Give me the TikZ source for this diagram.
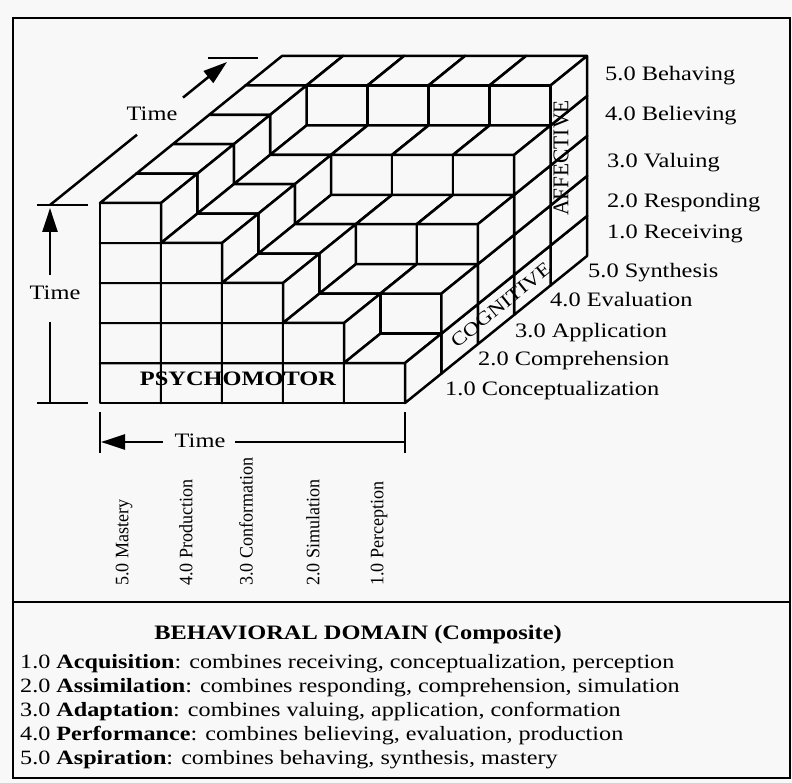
\documentclass[tikz,border=0pt]{standalone}
\usepackage{fontspec}
\setmainfont{Liberation Serif}[FakeStretch=1.19]
\newfontfamily\narrowserif{Liberation Serif}[FakeStretch=0.95]
\usetikzlibrary{arrows.meta}
\definecolor{paper}{RGB}{248,248,248}
\begin{document}
\begin{tikzpicture}[x=1pt,y=-1pt,
  face/.style={fill=paper, draw=black, line width=2.5pt, line join=round},
  lab/.style={inner sep=0pt, font=\fontsize{20.5}{24}\selectfont, text height=1.45ex, text depth=.3ex},
  vlab/.style={inner sep=0pt, rotate=90, anchor=west, font=\narrowserif\fontsize{19}{22}\selectfont},
  dimline/.style={line width=2.5pt},
  dimarrow/.style={line width=2.5pt, -{Triangle[length=24pt,width=15pt]}},
  body/.style={inner sep=0pt, anchor=west, font=\fontsize{20.3}{24}\selectfont}]
\fill[paper] (0,0) rectangle (792,783);
\useasboundingbox (0,0) rectangle (792,783);

% outer frame and divider
\draw[line width=2.5pt] (13,18) rectangle (790,778);
\draw[line width=2.5pt] (13,602) -- (790,602);

% staircase block of unit cubes, painted back to front
\begin{scope}[shift={(100pt,-403pt)}, x={(61pt,0pt)}, y={(0pt,40pt)}, z={(36.4pt,29.4pt)}]
\foreach \k in {4,3,2,1,0}{
  \foreach \i in {0,...,4}{
    \pgfmathtruncatemacro{\hmax}{4-min(\i,4-\k)}
    \foreach \j in {0,...,\hmax}{
      \draw[face] (\i,\j,\k) -- ++(1,0,0) -- ++(0,1,0) -- ++(-1,0,0) -- cycle;
      \draw[face] (\i,\j+1,\k) -- ++(1,0,0) -- ++(0,0,1) -- ++(-1,0,0) -- cycle;
      \draw[face] (\i+1,\j,\k) -- ++(0,0,1) -- ++(0,1,0) -- ++(0,0,-1) -- cycle;
    }
  }
}
\end{scope}

% face names
\node[lab, font=\bfseries\fontsize{20.5}{24}\selectfont] (psy) at (238,383) {PSYCHOMOTOR};
\node[inner sep=0pt, rotate=39, font=\fontsize{19}{22}\selectfont] (cog) at (501,305) {COGNITIVE};
\node[inner sep=0pt, rotate=90, font=\narrowserif\fontsize{22.5}{24}\selectfont] (aff) at (561,158) {AFFECTIVE};

% vertical time scale
\coordinate (vtop) at (50,205);
\coordinate (vbot) at (50,403);
\coordinate (vtip) at (50,208);
\node[lab] (tv) at (55,297) {Time};
\draw[dimline] (37,205) -- (88,205);
\draw[dimline] (37,403) -- (88,403);
\coordinate (va) at (50,275);
\coordinate (vb) at (50,322);
\draw[dimarrow] (va) -- (vtip);
\draw[dimline] (vb) -- (vbot);

% oblique time scale
\coordinate (da) at (137,134.7);
\coordinate (db) at (183,97.6);
\coordinate (dtip) at (227,62);
\node[lab] (td) at (152,118) {Time};
\draw[dimline] (vtop) -- (da);
\draw[dimarrow] (db) -- (dtip);
\draw[dimline] (208,58) -- (258,58);

% horizontal time scale
\coordinate (hl) at (101,442);
\coordinate (hr) at (405,442);
\coordinate (ha) at (163,442);
\coordinate (hb) at (235,442);
\node[lab] (th) at (200,445) {Time};
\draw[dimline] (100,412) -- (100,453);
\draw[dimline] (405,412) -- (405,453);
\draw[dimarrow] (ha) -- (hl);
\draw[dimline] (hb) -- (hr);

% affective levels
\node[lab, anchor=west] (a5) at (605,78) {5.0 Behaving};
\node[lab, anchor=west] (a4) at (605,118) {4.0 Believing};
\node[lab, anchor=west] (a3) at (607,165) {3.0 Valuing};
\node[lab, anchor=west] (a2) at (607,205) {2.0 Responding};
\node[lab, anchor=west] (a1) at (607,236) {1.0 Receiving};

% cognitive levels
\node[lab, anchor=west] (c5) at (588,275) {5.0 Synthesis};
\node[lab, anchor=west] (c4) at (550,304) {4.0 Evaluation};
\node[lab, anchor=west] (c3) at (515,335) {3.0 Application};
\node[lab, anchor=west] (c2) at (478,363) {2.0 Comprehension};
\node[lab, anchor=west] (c1) at (445,393) {1.0 Conceptualization};

% psychomotor levels
\node[vlab] (p5) at (124,586) {5.0 Mastery};
\node[vlab] (p4) at (186,586) {4.0 Production};
\node[vlab] (p3) at (246,586) {3.0 Conformation};
\node[vlab] (p2) at (313,586) {2.0 Simulation};
\node[vlab] (p1) at (379,586) {1.0 Perception};

% composite domain
\node[inner sep=0pt, font=\bfseries\fontsize{20.5}{24}\selectfont] (head) at (358,635) {BEHAVIORAL DOMAIN (Composite)};
\node[body] (b1) at (20,664) {1.0 \textbf{Acquisition}: combines receiving, conceptualization, perception};
\node[body] (b2) at (20,688) {2.0 \textbf{Assimilation}: combines responding, comprehension, simulation};
\node[body] (b3) at (20,712) {3.0 \textbf{Adaptation}: combines valuing, application, conformation};
\node[body] (b4) at (20,736) {4.0 \textbf{Performance}: combines believing, evaluation, production};
\node[body] (b5) at (20,760) {5.0 \textbf{Aspiration}: combines behaving, synthesis, mastery};
\end{tikzpicture}
\end{document}
